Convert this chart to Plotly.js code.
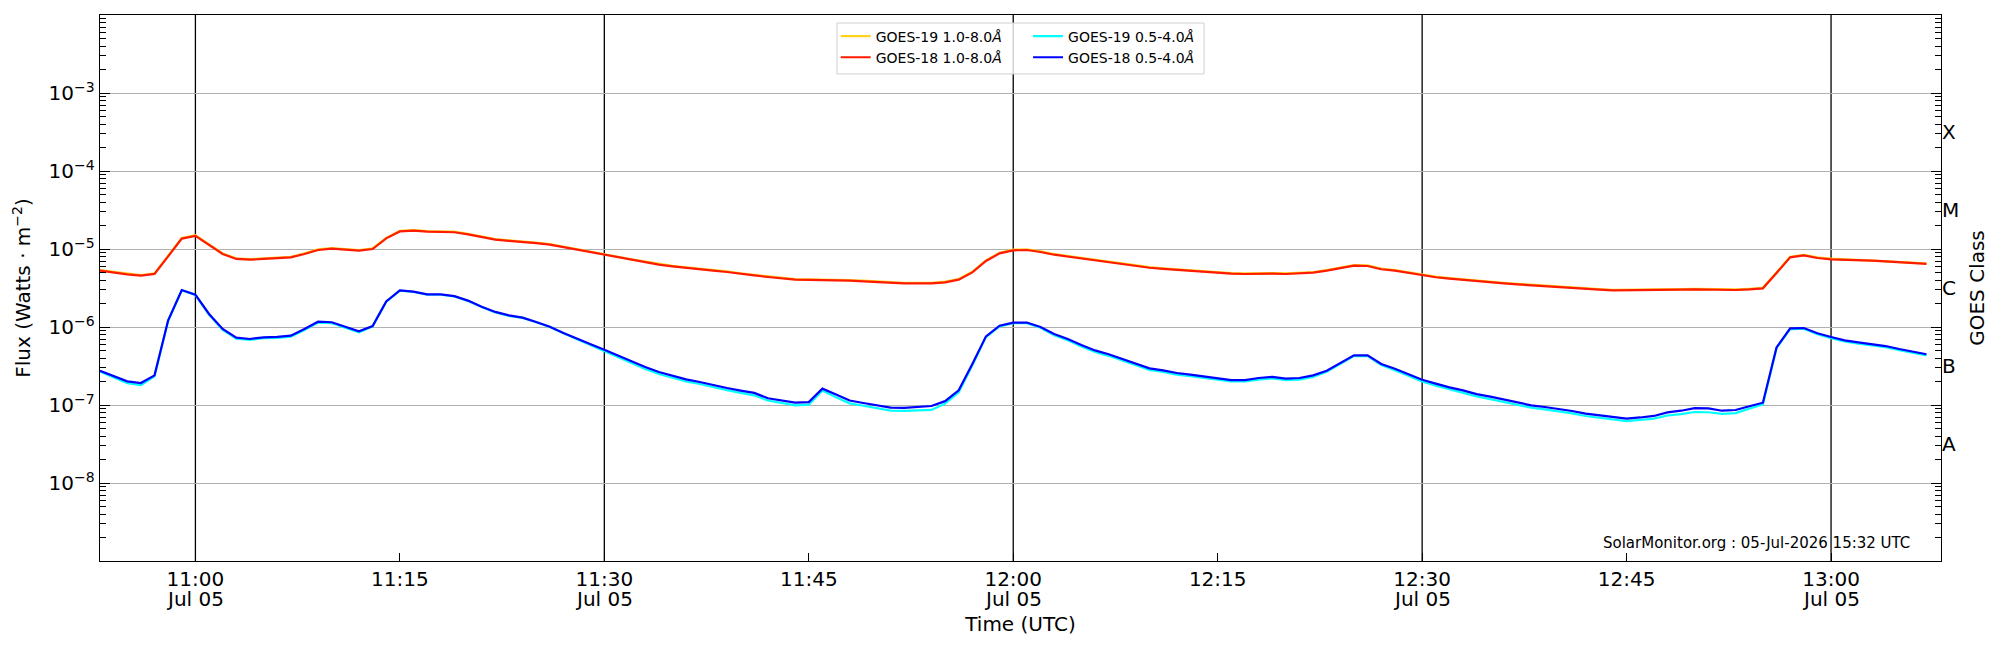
<!DOCTYPE html>
<html>
<head>
<meta charset="utf-8">
<script src="https://cdn.plot.ly/plotly-3.0.1.min.js"></script>
<style>
  html, body { margin: 0; padding: 0; background: #fff; }
  #goes { width: 2000px; height: 650px; }
</style>
</head>
<body>
<div id="goes"></div>
<script>
// one-minute GOES XRS fluxes, 10:53 to 13:07 UTC, W/m^2
const startTime = '2026-07-05T10:53:00'
const cadenceMin = 1

const goes18Long = [
  5.27e-6, 4.98e-6, 4.73e-6, 4.55e-6, 4.79e-6, 8.05e-6, 1.36e-5, 1.47e-5, 1.13e-5, 8.63e-6,
  7.45e-6, 7.29e-6, 7.45e-6, 7.59e-6, 7.82e-6, 8.63e-6, 9.70e-6, 1.01e-5, 9.79e-6, 9.53e-6,
  1.00e-5, 1.37e-5, 1.68e-5, 1.72e-5, 1.67e-5, 1.67e-5, 1.64e-5, 1.54e-5, 1.43e-5, 1.32e-5,
  1.27e-5, 1.24e-5, 1.19e-5, 1.14e-5, 1.06e-5, 9.79e-6, 9.16e-6, 8.45e-6, 7.82e-6, 7.23e-6,
  6.75e-6, 6.31e-6, 6.00e-6, 5.71e-6, 5.50e-6, 5.27e-6, 5.07e-6, 4.78e-6, 4.59e-6, 4.38e-6,
  4.21e-6, 4.05e-6, 4.01e-6, 4.01e-6, 3.96e-6, 3.93e-6, 3.85e-6, 3.78e-6, 3.66e-6, 3.63e-6,
  3.63e-6, 3.63e-6, 3.74e-6, 4.05e-6, 5.02e-6, 7.02e-6, 8.79e-6, 9.62e-6, 9.70e-6, 9.16e-6,
  8.45e-6, 7.98e-6, 7.52e-6, 7.08e-6, 6.75e-6, 6.43e-6, 6.05e-6, 5.75e-6, 5.55e-6, 5.38e-6,
  5.22e-6, 5.07e-6, 4.92e-6, 4.83e-6, 4.78e-6, 4.83e-6, 4.83e-6, 4.78e-6, 4.83e-6, 4.98e-6,
  5.27e-6, 5.65e-6, 6.11e-6, 6.05e-6, 5.50e-6, 5.27e-6, 4.92e-6, 4.55e-6, 4.34e-6, 4.17e-6,
  4.01e-6, 3.85e-6, 3.74e-6, 3.63e-6, 3.52e-6, 3.42e-6, 3.32e-6, 3.23e-6, 3.16e-6, 3.07e-6,
  3.01e-6, 2.95e-6, 2.95e-6, 2.95e-6, 2.98e-6, 3.01e-6, 3.01e-6, 3.04e-6, 3.01e-6, 2.98e-6,
  2.98e-6, 3.04e-6, 3.13e-6, 4.92e-6, 7.82e-6, 8.30e-6, 7.67e-6, 7.38e-6, 7.23e-6, 7.16e-6,
  7.08e-6, 6.95e-6, 6.75e-6, 6.62e-6, 6.43e-6
]

const goes19Long = [
  5.36e-6, 5.07e-6, 4.82e-6, 4.63e-6, 4.88e-6, 8.19e-6, 1.38e-5, 1.50e-5, 1.15e-5, 8.78e-6,
  7.58e-6, 7.42e-6, 7.58e-6, 7.72e-6, 7.96e-6, 8.78e-6, 9.87e-6, 1.03e-5, 9.96e-6, 9.70e-6,
  1.02e-5, 1.39e-5, 1.71e-5, 1.75e-5, 1.70e-5, 1.70e-5, 1.67e-5, 1.57e-5, 1.46e-5, 1.34e-5,
  1.29e-5, 1.26e-5, 1.21e-5, 1.16e-5, 1.08e-5, 9.96e-6, 9.32e-6, 8.60e-6, 7.96e-6, 7.36e-6,
  6.87e-6, 6.42e-6, 6.10e-6, 5.81e-6, 5.60e-6, 5.36e-6, 5.16e-6, 4.86e-6, 4.67e-6, 4.46e-6,
  4.28e-6, 4.12e-6, 4.08e-6, 4.08e-6, 4.03e-6, 4.00e-6, 3.92e-6, 3.85e-6, 3.72e-6, 3.69e-6,
  3.69e-6, 3.69e-6, 3.81e-6, 4.12e-6, 5.11e-6, 7.14e-6, 8.94e-6, 9.79e-6, 9.87e-6, 9.32e-6,
  8.60e-6, 8.12e-6, 7.65e-6, 7.20e-6, 6.87e-6, 6.54e-6, 6.16e-6, 5.85e-6, 5.65e-6, 5.47e-6,
  5.31e-6, 5.16e-6, 5.01e-6, 4.91e-6, 4.86e-6, 4.91e-6, 4.91e-6, 4.86e-6, 4.91e-6, 5.07e-6,
  5.36e-6, 5.75e-6, 6.22e-6, 6.16e-6, 5.60e-6, 5.36e-6, 5.01e-6, 4.63e-6, 4.42e-6, 4.24e-6,
  4.08e-6, 3.92e-6, 3.81e-6, 3.69e-6, 3.58e-6, 3.48e-6, 3.38e-6, 3.29e-6, 3.21e-6, 3.12e-6,
  3.06e-6, 3.00e-6, 3.00e-6, 3.00e-6, 3.03e-6, 3.06e-6, 3.06e-6, 3.09e-6, 3.06e-6, 3.03e-6,
  3.03e-6, 3.09e-6, 3.18e-6, 5.01e-6, 7.96e-6, 8.44e-6, 7.80e-6, 7.51e-6, 7.36e-6, 7.28e-6,
  7.20e-6, 7.07e-6, 6.87e-6, 6.74e-6, 6.54e-6
]

const goes18Short = [
  2.75e-7, 2.33e-7, 2.01e-7, 1.91e-7, 2.40e-7, 1.22e-6, 2.98e-6, 2.60e-6, 1.47e-6, 9.42e-7,
  7.29e-7, 7.02e-7, 7.38e-7, 7.45e-7, 7.74e-7, 9.42e-7, 1.17e-6, 1.15e-6, 1.01e-6, 8.79e-7,
  1.03e-6, 2.13e-6, 2.95e-6, 2.84e-6, 2.62e-6, 2.62e-6, 2.49e-6, 2.18e-6, 1.82e-6, 1.56e-6,
  1.41e-6, 1.32e-6, 1.16e-6, 1.01e-6, 8.38e-7, 7.02e-7, 6.00e-7, 5.12e-7, 4.29e-7, 3.63e-7,
  3.07e-7, 2.65e-7, 2.36e-7, 2.13e-7, 1.97e-7, 1.79e-7, 1.65e-7, 1.53e-7, 1.43e-7, 1.22e-7,
  1.14e-7, 1.07e-7, 1.09e-7, 1.62e-7, 1.36e-7, 1.14e-7, 1.06e-7, 9.90e-8, 9.25e-8, 9.16e-8,
  9.33e-8, 9.70e-8, 1.12e-7, 1.54e-7, 3.36e-7, 7.59e-7, 1.04e-6, 1.14e-6, 1.14e-6, 1.00e-6,
  8.13e-7, 7.02e-7, 5.87e-7, 5.01e-7, 4.47e-7, 3.89e-7, 3.36e-7, 2.95e-7, 2.78e-7, 2.57e-7,
  2.45e-7, 2.33e-7, 2.20e-7, 2.09e-7, 2.09e-7, 2.22e-7, 2.29e-7, 2.18e-7, 2.22e-7, 2.40e-7,
  2.75e-7, 3.45e-7, 4.34e-7, 4.34e-7, 3.36e-7, 2.92e-7, 2.47e-7, 2.11e-7, 1.88e-7, 1.68e-7,
  1.54e-7, 1.38e-7, 1.28e-7, 1.18e-7, 1.08e-7, 9.90e-8, 9.42e-8, 8.91e-8, 8.38e-8, 7.74e-8,
  7.41e-8, 7.08e-8, 6.68e-8, 6.92e-8, 7.24e-8, 8.05e-8, 8.45e-8, 9.12e-8, 9.06e-8, 8.45e-8,
  8.63e-8, 9.62e-8, 1.07e-7, 5.48e-7, 9.62e-7, 9.70e-7, 8.30e-7, 7.45e-7, 6.75e-7, 6.35e-7,
  6.00e-7, 5.70e-7, 5.22e-7, 4.83e-7, 4.47e-7
]

const goes19Short = [
  2.69e-7, 2.25e-7, 1.90e-7, 1.80e-7, 2.34e-7, 1.19e-6, 2.95e-6, 2.57e-6, 1.44e-6, 9.17e-7,
  7.09e-7, 6.83e-7, 7.18e-7, 7.25e-7, 7.53e-7, 9.17e-7, 1.14e-6, 1.12e-6, 9.83e-7, 8.55e-7,
  1.02e-6, 2.11e-6, 2.92e-6, 2.81e-6, 2.59e-6, 2.59e-6, 2.46e-6, 2.16e-6, 1.80e-6, 1.54e-6,
  1.39e-6, 1.31e-6, 1.15e-6, 9.99e-7, 8.29e-7, 6.94e-7, 5.86e-7, 4.95e-7, 4.10e-7, 3.43e-7,
  2.90e-7, 2.50e-7, 2.23e-7, 2.01e-7, 1.86e-7, 1.68e-7, 1.55e-7, 1.43e-7, 1.33e-7, 1.14e-7,
  1.05e-7, 9.88e-8, 1.01e-7, 1.53e-7, 1.26e-7, 1.05e-7, 9.78e-8, 9.14e-8, 8.47e-8, 8.39e-8,
  8.45e-8, 8.64e-8, 1.04e-7, 1.45e-7, 3.23e-7, 7.42e-7, 1.02e-6, 1.12e-6, 1.12e-6, 9.77e-7,
  7.85e-7, 6.78e-7, 5.61e-7, 4.78e-7, 4.27e-7, 3.71e-7, 3.21e-7, 2.82e-7, 2.65e-7, 2.45e-7,
  2.34e-7, 2.23e-7, 2.10e-7, 2.00e-7, 2.00e-7, 2.12e-7, 2.19e-7, 2.08e-7, 2.12e-7, 2.29e-7,
  2.66e-7, 3.37e-7, 4.24e-7, 4.24e-7, 3.25e-7, 2.79e-7, 2.36e-7, 2.01e-7, 1.77e-7, 1.59e-7,
  1.44e-7, 1.29e-7, 1.19e-7, 1.10e-7, 1.01e-7, 9.24e-8, 8.79e-8, 8.31e-8, 7.82e-8, 7.22e-8,
  6.91e-8, 6.61e-8, 6.23e-8, 6.46e-8, 6.68e-8, 7.34e-8, 7.62e-8, 8.13e-8, 8.07e-8, 7.71e-8,
  7.87e-8, 8.98e-8, 1.02e-7, 5.35e-7, 9.40e-7, 9.48e-7, 8.11e-7, 7.20e-7, 6.52e-7, 6.13e-7,
  5.80e-7, 5.51e-7, 5.04e-7, 4.67e-7, 4.32e-7
]

const seriesNames = ['GOES-19 1.0-8.0<i>Å</i>', 'GOES-19 0.5-4.0<i>Å</i>',
                     'GOES-18 1.0-8.0<i>Å</i>', 'GOES-18 0.5-4.0<i>Å</i>']
const seriesColors = ['#ffd21f', '#00ffff', '#ff1a00', '#0000ff']

const xRange = ['2026-07-05 10:53:00', '2026-07-05 13:08:04']
const tickTimes = ['2026-07-05 11:00', '2026-07-05 11:15', '2026-07-05 11:30', '2026-07-05 11:45',
                   '2026-07-05 12:00', '2026-07-05 12:15', '2026-07-05 12:30', '2026-07-05 12:45',
                   '2026-07-05 13:00']
const tickLabels = ['11:00', '11:15', '11:30', '11:45', '12:00', '12:15', '12:30', '12:45', '13:00']
const dayLines = ['2026-07-05 11:00', '2026-07-05 11:30', '2026-07-05 12:00',
                  '2026-07-05 12:30', '2026-07-05 13:00']
const dayLabel = 'Jul 05'

const fluxTicks = [1e-8, 1e-7, 1e-6, 1e-5, 1e-4, 1e-3]
const fluxLabels = ['10<sup>−8</sup>', '10<sup>−7</sup>', '10<sup>−6</sup>',
                    '10<sup>−5</sup>', '10<sup>−4</sup>', '10<sup>−3</sup>']
const classTicks = [10 ** -7.5, 10 ** -6.5, 10 ** -5.5, 10 ** -4.5, 10 ** -3.5]
const classLabels = ['A', 'B', 'C', 'M', 'X']
const stamp = 'SolarMonitor.org : 05-Jul-2026 15:32 UTC'

function minuteTimes(start, n, step) {
  const t0 = new Date(start + 'Z').getTime()
  const out = []
  for (let i = 0; i < n; i++) {
    out.push(new Date(t0 + i * step * 60000).toISOString().slice(0, 19).replace('T', ' '))
  }
  return out
}

// log minor ticks, 2..9 of every decade in view
function minorLogTicks(lo, hi) {
  const out = []
  for (let e = lo; e < hi; e++) {
    for (let d = 2; d <= 9; d++) out.push(d * 10 ** e)
  }
  return out
}

const times = minuteTimes(startTime, goes18Long.length, cadenceMin)
const fluxes = [goes19Long, goes19Short, goes18Long, goes18Short]
const legendOf = ['legend', 'legend2', 'legend', 'legend2']
// GOES-18 goes on the class axis (same scale) so that it draws on top
const axisOf = ['y', 'y', 'y2', 'y2']

const data = fluxes.map(function(y, i) {
  return {
    x: times, y: y, name: seriesNames[i], type: 'scatter', mode: 'lines',
    yaxis: axisOf[i],
    line: { color: seriesColors[i], width: 2.2 },
    legend: legendOf[i], legendgroup: 'g' + i, hoverinfo: 'skip'
  }
})

const font = { family: 'DejaVu Sans, sans-serif', color: '#000' }
const legendBase = {
  xanchor: 'left', yanchor: 'top', y: 0.99,
  bgcolor: 'rgba(0,0,0,0)', borderwidth: 0, tracegroupgap: 7,
  font: Object.assign({ size: 14 }, font), traceorder: 'normal'
}

const shapes = dayLines.map(function(t) {
  return { type: 'line', xref: 'x', yref: 'paper', x0: t, x1: t, y0: 0, y1: 1,
           line: { color: '#000', width: 1.3 }, layer: 'below' }
})
shapes.push({
  type: 'rect', xref: 'paper', yref: 'paper', x0: 0.4003, x1: 0.5997, y0: 0.892, y1: 0.9853,
  line: { color: '#d0d0d0', width: 1 }, fillcolor: 'rgba(255,255,255,0.8)', layer: 'above'
})

const annotations = dayLines.map(function(t) {
  return { text: dayLabel, xref: 'x', yref: 'paper', x: t, y: -0.07,
           xanchor: 'center', yanchor: 'middle', showarrow: false,
           font: Object.assign({ size: 20 }, font) }
})
annotations.push({
  text: stamp, xref: 'paper', yref: 'paper', x: 0.9843, y: 0.033,
  xanchor: 'right', yanchor: 'middle', showarrow: false,
  font: Object.assign({ size: 15 }, font)
})

const layout = {
  width: 2000, height: 650,
  margin: { l: 100, r: 59, t: 15, b: 89 },
  paper_bgcolor: '#fff', plot_bgcolor: '#fff',
  font: Object.assign({ size: 20 }, font),
  showlegend: true,
  legend: Object.assign({ x: 0.3996 }, legendBase),
  legend2: Object.assign({ x: 0.5041 }, legendBase),
  xaxis: {
    type: 'date', range: xRange, tickmode: 'array', tickvals: tickTimes, ticktext: tickLabels,
    ticks: 'inside', ticklen: 8, tickcolor: '#000', tickwidth: 1,
    showline: true, linecolor: '#000', linewidth: 1.3, mirror: true,
    showgrid: false, zeroline: false,
    tickfont: Object.assign({ size: 20 }, font),
    title: { text: 'Time (UTC)', font: Object.assign({ size: 20 }, font), standoff: 26 }
  },
  yaxis: {
    type: 'log', range: [-9, -2], tickmode: 'array', tickvals: fluxTicks, ticktext: fluxLabels,
    ticks: 'inside', ticklen: 10, tickcolor: '#000', tickwidth: 1,
    minor: { tickmode: 'array', tickvals: minorLogTicks(-9, -2), ticks: 'inside', ticklen: 6,
             tickcolor: '#000', showgrid: false },
    showline: true, linecolor: '#000', linewidth: 1.3, mirror: 'allticks',
    showgrid: true, gridcolor: '#b0b0b0', gridwidth: 1, zeroline: false,
    tickfont: Object.assign({ size: 20 }, font),
    title: { text: 'Flux (Watts · m<sup>−2</sup>)', font: Object.assign({ size: 20 }, font), standoff: 12 }
  },
  yaxis2: {
    type: 'log', range: [-9, -2], overlaying: 'y', side: 'right',
    tickmode: 'array', tickvals: classTicks, ticktext: classLabels,
    ticks: '', showgrid: false, showline: false, zeroline: false,
    tickfont: Object.assign({ size: 20 }, font),
    title: { text: 'GOES Class', font: Object.assign({ size: 20 }, font), standoff: 11 }
  },
  shapes: shapes,
  annotations: annotations
}

Plotly.newPlot('goes', data, layout, { displayModeBar: false, staticPlot: true })
</script>
</body>
</html>
